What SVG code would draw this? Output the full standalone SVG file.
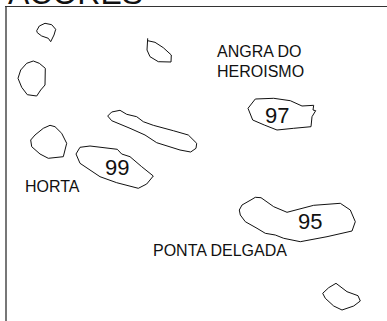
<svg xmlns="http://www.w3.org/2000/svg" width="387" height="321" viewBox="0 0 387 321">
<style>
text{font-family:"Liberation Sans",Arial,sans-serif;fill:#111}
.t{font-size:32px}
.l{font-size:16px}
.n{font-size:22px}
.i{fill:none;stroke:#111;stroke-width:1;stroke-linejoin:round}
.fl{fill:none;stroke:#777;stroke-width:2}
.ft{fill:none;stroke:#333;stroke-width:1}
</style>
<rect width="387" height="321" fill="#fff"/>
<text class="t" x="8" y="3.500">ACORES</text>
<path class="fl" d="M6 6V321"/>
<path class="ft" d="M5 6.500H387"/>
<g id="isl1"><path class="i" d="M36.700 30.700L39.300 26 45 23.300 51.700 24.700 55.700 29.300 54 35 50.700 41.700 48.300 38.300 41.700 36 37.300 32.700Z"/></g>
<g id="isl2"><path class="i" d="M147.700 38.300L147 50 150 56.700 158.300 61.700 171 62 171.300 55 163.300 47.700 155 42.300 147.700 40.700"/></g>
<g id="isl3"><path class="i" d="M33.300 61L26.700 63.300 20.700 70 18 78.300 21.700 87.300 27.300 94.700 36.700 96 40.700 90 45 85 45.300 68.300 39.300 63.300Z"/></g>
<g id="isl4"><path class="i" d="M107.700 116L111.700 112 120 110.300 126.700 114.300 136.700 116.700 143.300 121.700 153.300 125.300 173.300 130.700 188.300 135 196.700 143.300 196 148.300 190.700 152 180 150 156.700 142.700 145 135 130 128.300 111.700 120.700Z"/></g>
<g id="isl5"><path class="i" d="M50 125.300L43.300 128.300 35 135 30.700 140 31.700 146.700 40 154 48.300 158.300 63.300 156.700 66.700 143.300 61.700 133.300 55 126.700Z"/></g>
<g id="isl6"><path class="i" d="M76 154L80 147.300 90 146 117.300 149.300 121.700 154 130 156.700 141.700 166.700 153.300 176 146.700 184 138.300 188.300 116.700 182.700 100 176.700 80 163.300Z"/></g>
<g id="isl7"><path class="i" d="M248 108.300L255.300 99 273.700 98.300 290.300 100.700 302 106 313.700 105.300 313 110 315.700 110.700 312 116.700 311 126.700 293.700 128.300 277 130 264.300 125 252.700 120Z"/></g>
<g id="isl8"><path class="i" d="M239.300 210L242 205 252 199.300 255.300 197.300 261 197.700 273.700 206.700 287 212.300 313.700 205.300 340.300 203.300 350.300 210 355.300 221.700 352 231 327 236.700 300.300 241.700 283.700 238.300 275.300 235 265.300 233.300 257 228.300 245.300 221.700 240.300 215Z"/></g>
<g id="isl9"><path class="i" d="M322.700 293.300L328.700 287.700 336 283.300 347 291.700 358 295.700 360.300 301 353.700 306 342 310 333.700 306 325.300 298.300Z"/></g>
<g id="connectors"></g>
<g id="labels">
<text class="n" x="105" y="175">99</text>
<text class="n" x="265" y="122.500">97</text>
<text class="n" x="298" y="229">95</text>
<text class="l" x="25" y="192">HORTA</text>
<text class="l" x="217" y="57">ANGRA DO</text>
<text class="l" x="217" y="77">HEROISMO</text>
<text class="l" x="153" y="255.500">PONTA DELGADA</text>
</g>
</svg>
